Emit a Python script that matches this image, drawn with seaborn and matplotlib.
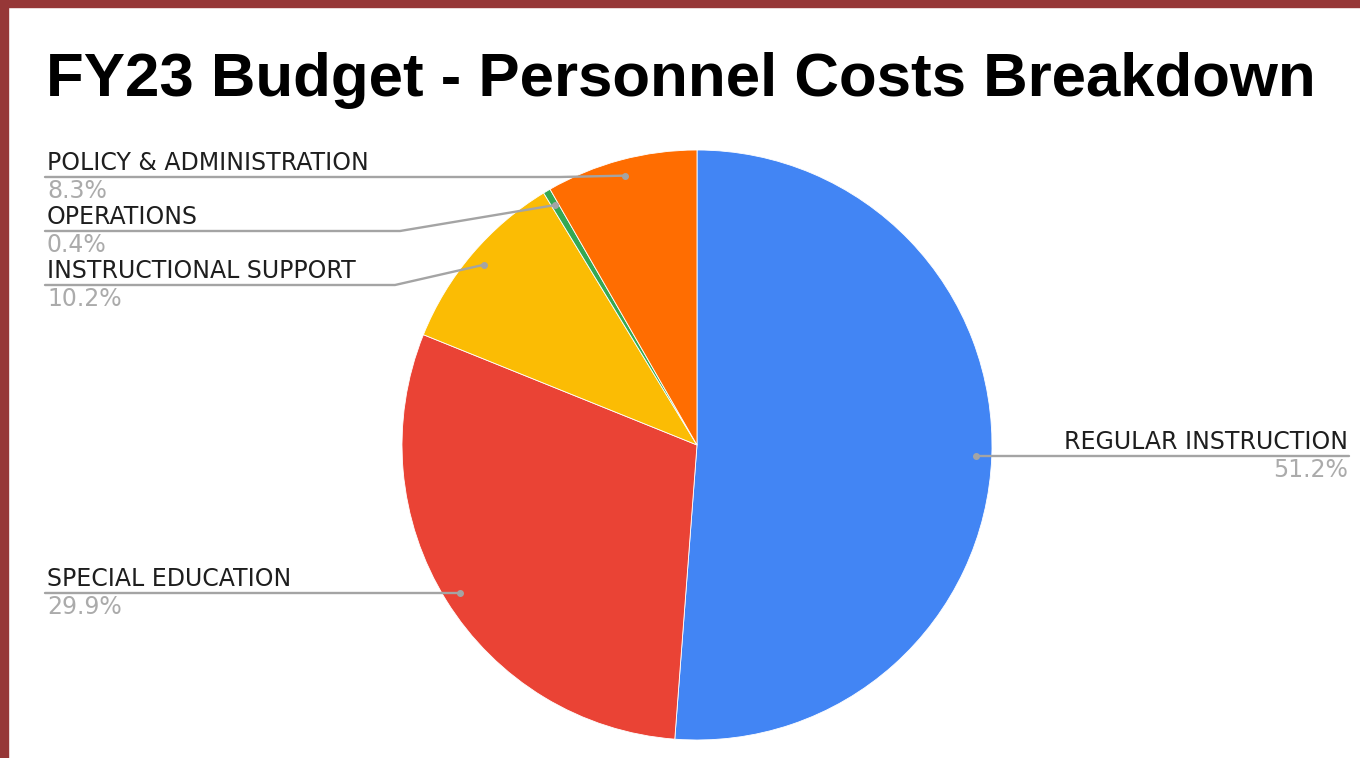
import numpy as np
import matplotlib
matplotlib.use("Agg")
import matplotlib.pyplot as plt
from matplotlib.lines import Line2D
from matplotlib.patches import Rectangle
import seaborn as sns

# ---- data ----
categories = ["REGULAR INSTRUCTION", "SPECIAL EDUCATION", "INSTRUCTIONAL SUPPORT",
              "OPERATIONS", "POLICY & ADMINISTRATION"]
shares = [51.2, 29.9, 10.2, 0.4, 8.3]
colors = ["#4285F4", "#EA4335", "#FBBC04", "#34A853", "#FF6D01"]
title = "FY23 Budget - Personnel Costs Breakdown"

sns.set_theme(style="white")
plt.rcParams["font.family"] = ["Liberation Sans", "DejaVu Sans"]

W, H = 1360, 758
fig = plt.figure(figsize=(W / 100, H / 100), dpi=100)
fig.patch.set_facecolor("white")

def fx(px):
    return px / W

def fy(py):
    return 1 - py / H

# border
border = "#963737"
fig.patches.append(Rectangle((0, 0), fx(8), 1, transform=fig.transFigure, color=border, zorder=0))
fig.patches.append(Rectangle((0, fy(7)), 1, 1 - fy(7), transform=fig.transFigure, color=border, zorder=0))

cx, cy, R = 697, 445, 295
ax = fig.add_axes([fx(cx - R), fy(cy + R), 2 * R / W, 2 * R / H])
wedges, _ = ax.pie(shares, colors=colors, startangle=90, counterclock=False,
                   radius=1, wedgeprops=dict(edgecolor="white", linewidth=0.6))
ax.set_xlim(-1, 1)
ax.set_ylim(-1, 1)
ax.axis("off")

fig.text(fx(46), fy(96), title, fontsize=44.5, fontweight="bold", color="#000000",
         ha="left", va="baseline")

label_font = ["DejaVu Sans"]
lc = "#a4a4a4"

def dot_px(i, r=0.945):
    cum = np.cumsum([0] + shares)
    mid = 90 - (cum[i] + shares[i] / 2) / 100 * 360
    a = np.deg2rad(mid)
    return cx + R * r * np.cos(a), cy - R * r * np.sin(a)

layout = {
    0: dict(side="right", ly=456, elbow=None),
    1: dict(side="left", ly=593, elbow=None),
    2: dict(side="left", ly=285, elbow=395),
    3: dict(side="left", ly=231, elbow=400),
    4: dict(side="left", ly=177, elbow=560),
}

for i, cat in enumerate(categories):
    dxp, dyp = dot_px(i)
    L = layout[i]
    ly = L["ly"]
    if L["side"] == "left":
        pts = [(45, ly)]
        if L["elbow"] is not None:
            pts.append((L["elbow"], ly))
        else:
            pts.append((dxp, ly))
            dyp = ly
        pts.append((dxp, dyp))
        tx, ha = 47, "left"
    else:
        pts = [(dxp, ly), (1349, ly)]
        dyp = ly
        tx, ha = 1348, "right"
    xs = [fx(p[0]) for p in pts]
    ys = [fy(p[1]) for p in pts]
    fig.add_artist(Line2D(xs, ys, transform=fig.transFigure, color=lc, lw=1.7, zorder=3))
    fig.add_artist(Line2D([fx(dxp)], [fy(dyp)], transform=fig.transFigure, marker="o",
                          markersize=4, color=lc, lw=0, zorder=4))
    fig.text(fx(tx), fy(ly - 7), cat, fontsize=17, family=label_font, color="#1e1e1e",
             ha=ha, va="baseline")
    fig.text(fx(tx), fy(ly + 2), f"{shares[i]:.1f}%", fontsize=17, family=label_font,
             color="#ababab", ha=ha, va="top")

fig.savefig("out.png", dpi=100, facecolor="white")
